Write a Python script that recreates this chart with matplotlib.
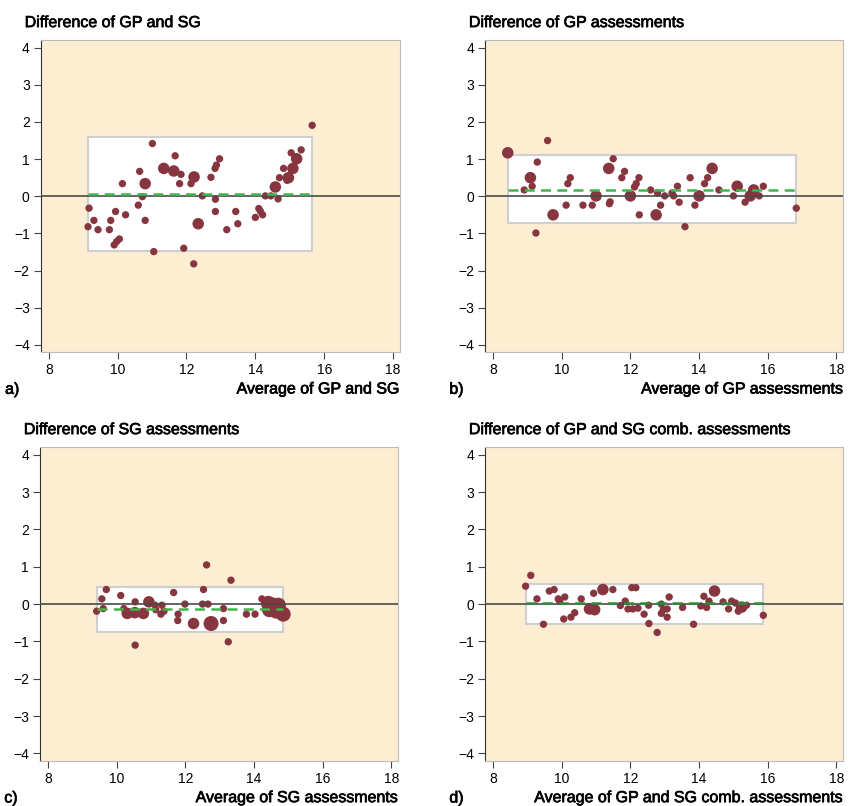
import matplotlib.pyplot as plt
from matplotlib.patches import Rectangle
import matplotlib.patheffects as pe

plt.rcParams['font.family'] = ['Liberation Sans', 'DejaVu Sans']

# panel a: GP vs SG
a_avg = [15.65, 11.01, 11.67, 11.34, 11.63, 11.84, 11.80, 12.22, 12.13, 10.64, 10.80, 10.14,
         12.96, 12.87, 12.83, 12.71, 12.46, 12.84, 12.84, 12.34, 13.17, 13.43, 13.49, 11.92,
         11.05, 12.21, 10.72, 10.60, 10.80, 9.17, 9.31, 9.14, 9.43, 9.76, 9.80, 9.94, 10.23,
         10.05, 9.97, 9.90, 14.00, 14.10, 14.15, 14.21, 14.29, 14.45, 14.66, 14.58, 14.70,
         14.82, 14.96, 14.92, 15.09, 15.20, 15.04, 15.33]
a_diff = [1.91, 1.42, 1.09, 0.75, 0.68, 0.59, 0.34, 0.52, 0.34, 0.67, 0.34, 0.34,
          1.01, 0.84, 0.75, 0.51, 0.01, -0.08, -0.41, -0.74, -0.90, -0.41, -0.74, -1.40,
          -1.49, -1.82, -0.01, -0.24, -0.65, -0.32, -0.65, -0.82, -0.90, -0.90, -0.65, -0.41, -0.50,
          -1.15, -1.22, -1.31, -0.57, -0.33, -0.41, -0.50, 0.01, 0.01, -0.07, 0.25, 0.50,
          0.75, 0.50, 0.43, 0.75, 1.01, 1.17, 1.25]
a_n = [1, 1, 1, 2, 2, 1, 1, 2, 1, 1, 2, 1,
       1, 1, 1, 1, 1, 1, 1, 2, 1, 1, 1, 1,
       1, 1, 1, 1, 1, 1, 1, 1, 1, 1, 1, 1, 1,
       1, 1, 1, 1, 1, 1, 1, 1, 1, 1, 2, 1,
       1, 2, 1, 2, 2, 1, 1]

# panel b: GP assessments
b_avg = [8.43, 9.59, 9.29, 9.09, 9.14, 8.91, 9.25, 9.75, 10.13, 10.18, 10.25, 10.62, 10.89,
         11.00, 11.39, 11.41, 11.37, 11.50, 11.83, 11.75, 12.25, 12.17, 12.12, 12.00, 12.26,
         12.59, 12.79, 13.00, 12.88, 12.75, 13.21, 13.26, 13.37, 13.42, 13.59, 13.74, 13.88,
         14.00, 14.16, 14.25, 14.38, 14.58, 15.00, 15.11, 15.34, 15.49, 15.59, 15.75, 15.87, 16.83]
b_diff = [1.17, 1.50, 0.92, 0.50, 0.27, 0.17, -0.99, -0.50, -0.24, 0.34, 0.50, -0.24, -0.24,
          0.01, -0.20, -0.15, 0.75, 1.01, 0.67, 0.50, 0.50, 0.34, 0.25, 0.01, -0.50,
          0.17, 0.09, 0.01, -0.24, -0.50, 0.09, 0.01, 0.27, -0.16, -0.82, 0.50, -0.24,
          0.01, 0.34, 0.50, 0.75, 0.17, 0.01, 0.27, -0.16, 0.01, 0.17, 0.01, 0.27, -0.32]
b_n = [2, 1, 1, 2, 1, 1, 1, 2, 1, 1, 1, 1, 1,
       2, 1, 1, 2, 1, 1, 1, 1, 1, 1, 2, 1,
       1, 1, 1, 1, 2, 1, 1, 1, 1, 1, 1, 1,
       2, 1, 1, 2, 1, 1, 2, 1, 2, 2, 1, 1, 1]

# panel c: SG assessments
c_avg = [12.62, 13.33, 9.70, 9.57, 9.42, 9.61, 10.12, 10.54, 10.21, 10.31, 10.53, 10.78, 10.94,
         11.12, 11.32, 11.29, 11.38, 10.54, 11.66, 11.79, 11.78, 11.99, 12.24, 12.53, 12.50,
         12.66, 12.75, 13.11, 13.11, 13.25, 13.78, 14.03, 14.23, 14.42, 14.57, 14.71, 14.85,
         14.45, 14.65, 11.14]
c_diff = [1.05, 0.64, 0.39, 0.14, -0.19, -0.12, 0.23, 0.06, -0.12, -0.25, -0.23, -0.25, 0.06,
          -0.03, -0.03, -0.27, -0.19, -1.10, 0.31, -0.27, -0.44, 0.00, -0.52, 0.39, 0.00,
          0.00, -0.52, -0.12, -0.44, -1.01, -0.27, -0.27, 0.14, 0.02, -0.03, -0.03, -0.27,
          -0.15, -0.19, -0.15]
c_n = [1, 1, 1, 1, 1, 1, 1, 1, 1, 2, 2, 2, 2,
       1, 1, 1, 1, 1, 1, 1, 1, 1, 2, 1, 1,
       1, 3, 1, 1, 1, 1, 1, 1, 3, 3, 3, 3,
       3, 3, 1]

# panel d: GP and SG combined
d_avg = [9.10, 8.95, 9.28, 9.47, 9.64, 9.78, 9.90, 10.09, 9.94, 10.06, 10.27, 10.38, 10.57,
         10.93, 11.20, 11.49, 10.81, 10.96, 11.71, 11.85, 12.04, 12.16, 11.93, 12.07, 12.22,
         12.40, 12.53, 12.54, 12.78, 12.90, 12.90, 12.96, 13.07, 13.07, 13.13, 13.52, 13.84,
         14.14, 14.05, 14.22, 14.29, 14.45, 14.70, 14.86, 14.95, 15.06, 15.14, 15.24, 15.38, 15.87]
d_diff = [0.77, 0.48, 0.14, -0.54, 0.35, 0.39, 0.14, 0.19, 0.08, -0.40, -0.35, -0.23, 0.14,
          0.29, 0.39, 0.39, -0.13, -0.15, -0.04, 0.08, 0.44, 0.44, -0.13, -0.13, -0.11,
          -0.27, -0.03, -0.52, -0.76, 0.00, -0.25, -0.15, -0.13, -0.35, 0.19, -0.09, -0.54,
          0.21, -0.05, -0.09, 0.08, 0.35, 0.06, -0.13, 0.08, 0.03, -0.19, -0.08, -0.03, -0.30]
d_n = [1, 1, 1, 1, 1, 1, 1, 1, 1, 1, 1, 1, 1,
       1, 2, 1, 2, 2, 1, 1, 1, 1, 1, 1, 1,
       1, 1, 1, 1, 1, 1, 1, 1, 1, 1, 1, 1,
       1, 1, 1, 1, 2, 1, 1, 1, 1, 1, 2, 1, 1]

means = [0.05, 0.18, -0.13, 0.02]
lower = [-1.48, -0.73, -0.74, -0.53]
upper = [1.59, 1.10, 0.46, 0.53]
titles = ['Difference of GP and SG', 'Difference of GP assessments',
          'Difference of SG assessments', 'Difference of GP and SG comb. assessments']
xlabels = ['Average of GP and SG', 'Average of GP assessments',
           'Average of SG assessments', 'Average of GP and SG comb. assessments']
letters = ['a)', 'b)', 'c)', 'd)']
mean_colors = ['#43b54c', '#43b54c', '#43b54c', '#2f8a3a']

panels = [(a_avg, a_diff, a_n), (b_avg, b_diff, b_n), (c_avg, c_diff, c_n), (d_avg, d_diff, d_n)]
rects = [[0.048, 0.563, 0.422, 0.387], [0.570, 0.563, 0.421, 0.387],
         [0.047, 0.056, 0.421, 0.389], [0.570, 0.056, 0.421, 0.389]]

heavy = [pe.withStroke(linewidth=0.5, foreground='black')]

fig = plt.figure(figsize=(8.51, 8.06), dpi=100)

for i in range(4):
    avg, diff, n = panels[i]
    ax = fig.add_axes(rects[i])
    ax.set_facecolor('#fdedd1')
    ax.set_xlim(7.77, 18.2)
    ax.set_ylim(-4.2, 4.2)
    x0, x1 = min(avg), max(avg)
    ax.add_patch(Rectangle((x0, lower[i]), x1 - x0, upper[i] - lower[i],
                           facecolor='white', edgecolor='#cfcfcf', lw=1.5, zorder=1))
    ax.scatter(avg, diff, s=[28 * k ** 1.3 for k in n], color='#873640', zorder=3, lw=0)
    ax.axhline(0, color='#4a4a4a', lw=1.2, zorder=4)
    ax.plot([x0, x1], [means[i], means[i]], color=mean_colors[i], lw=1.8,
            ls=(0, (4, 2.5)), zorder=5)
    ax.set_xticks([8, 10, 12, 14, 16, 18])
    ax.set_yticks([-4, -3, -2, -1, 0, 1, 2, 3, 4])
    ax.set_yticklabels(['\u22124', '\u22123', '\u22122', '\u22121', '0', '1', '2', '3', '4'])
    ax.tick_params(labelsize=10, length=5, color='#444444', pad=3)
    ax.spines['left'].set_color('#333333')
    for s in ['top', 'right', 'bottom']:
        ax.spines[s].set_color('#bbbbbb')
    ax.set_xlabel(xlabels[i], fontsize=11.5, loc='right', labelpad=3, path_effects=heavy)
    bb = rects[i]
    fig.text(bb[0] - 0.019, bb[1] + bb[3] + 0.022, titles[i], fontsize=11.5, va='center',
             path_effects=heavy)
    fig.text(bb[0] - 0.042, bb[1] - 0.046, letters[i], fontsize=11.5, va='center',
             path_effects=heavy)

fig.savefig('out.png', dpi=100)
